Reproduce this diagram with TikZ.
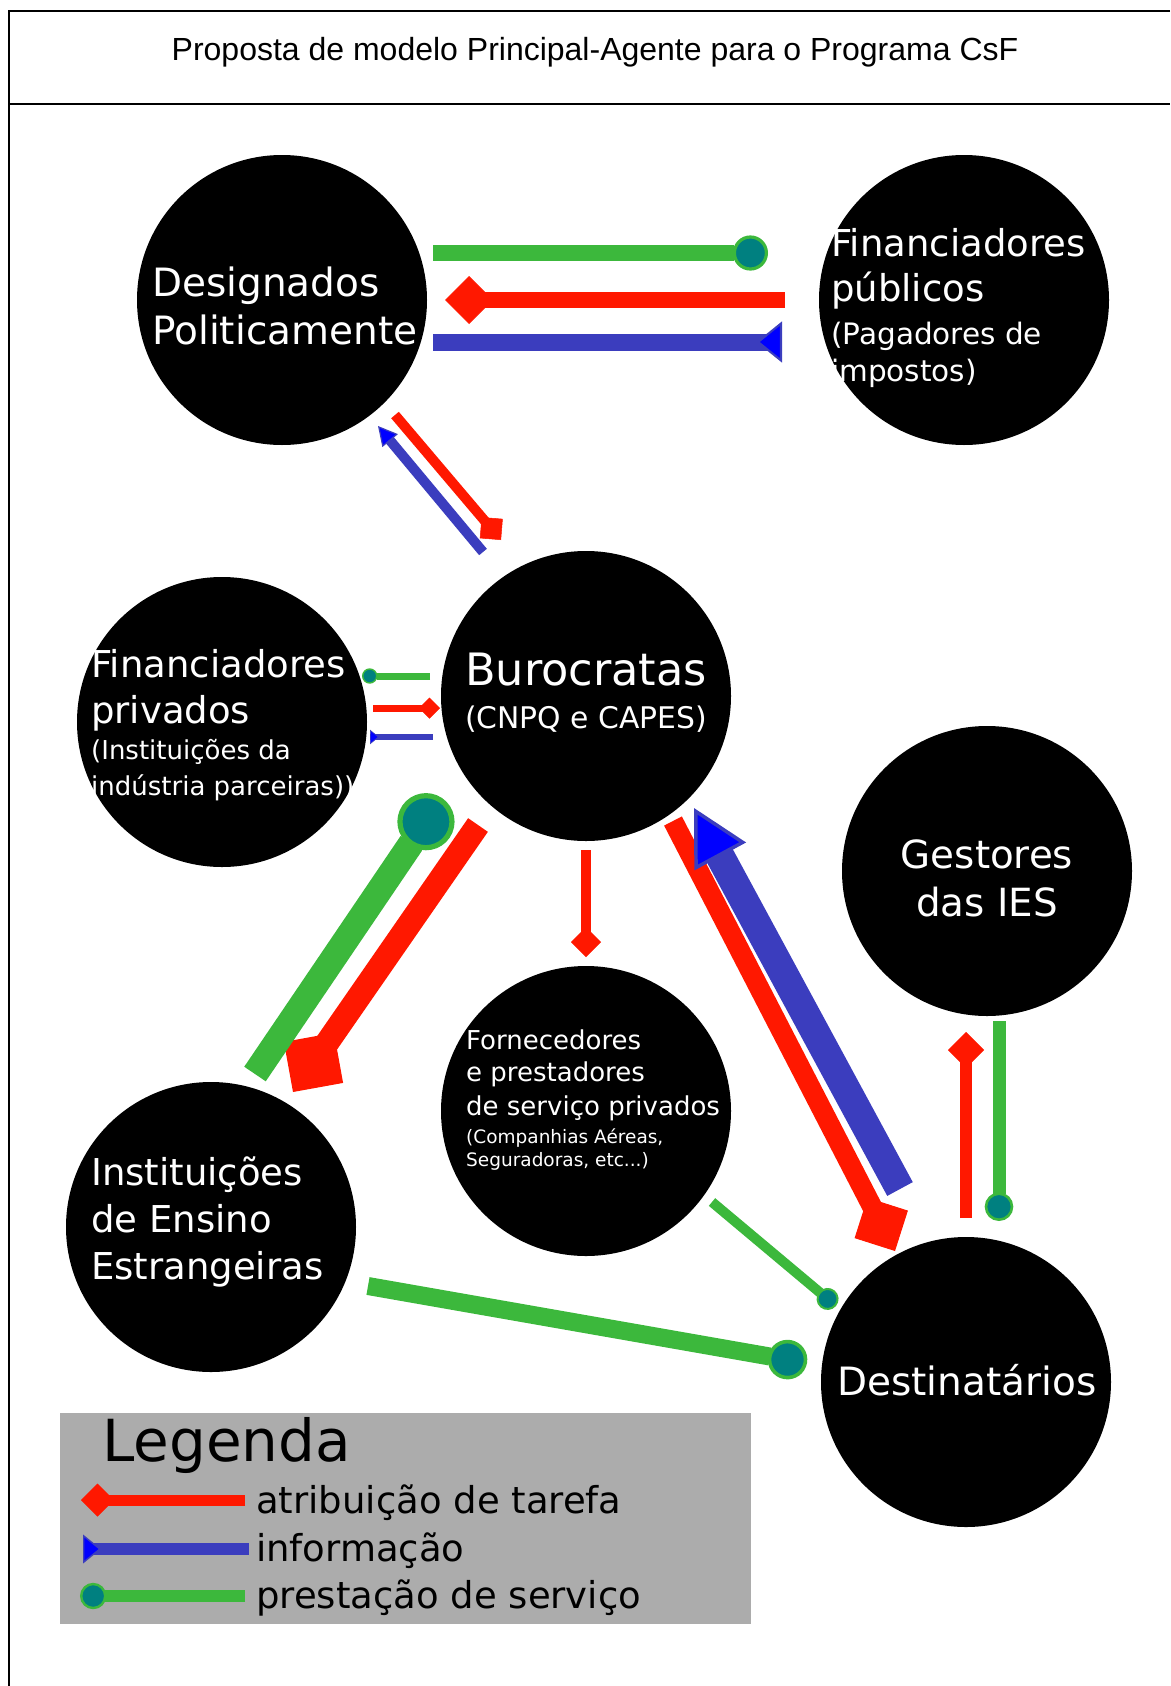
\documentclass[tikz,border=0pt]{standalone}
\usepackage{fontspec}
\usetikzlibrary{calc,arrows.meta}

\newfontfamily\dejavu{DejaVu Sans}
\newfontfamily\liberation{Liberation Sans}

\definecolor{vermelho}{RGB}{255,24,0}
\definecolor{azul}{RGB}{59,61,190}
\definecolor{azulponta}{RGB}{0,0,255}
\definecolor{verde}{RGB}{60,184,60}
\definecolor{petroleo}{RGB}{0,128,128}
\definecolor{cinza}{RGB}{172,172,172}

\tikzset{
    ator/.style={circle, fill=black, minimum size=290pt, inner sep=0pt},
    rotulo/.style={text=white, inner sep=0pt, align=left},
    losango/.tip={Diamond[length=0pt 3, width=0pt 3, line width=0pt 0.05]},
    ponta/.tip={Triangle[length=0pt 1.9, width=0pt 2.0, fill=azulponta, line width=0pt 0.12]},
    pontainv/.tip={Triangle[reversed, length=0pt 1.5, width=0pt 2.4, fill=azulponta, line width=0pt 0.12]},
    bolinha/.tip={Circle[length=0pt 2.2, fill=petroleo, line width=0pt 0.2]},
    tarefa/.style={draw=vermelho, line width=#1, -{losango}},
    informacao/.style={draw=azul, line width=#1, -{ponta}},
    informacaoinv/.style={draw=azul, line width=#1, {pontainv}-, preaction={draw=azul, line width=#1, arrows=-}},
    servico/.style={draw=verde, line width=#1, -{bolinha}}
}

\begin{document}
\begin{tikzpicture}[x=1pt, y=-1pt]
    \useasboundingbox (0,0) rectangle (1170,1686);
    \draw[line width=2pt] (1170,11) -- (9,11) -- (9,1686);
    \draw[line width=2pt] (9,104) -- (1170,104);
    \node[font=\liberation\fontsize{32}{38}\selectfont, anchor=base] at (595,61) (T) {Proposta de modelo Principal-Agente para o Programa CsF};

    \node[ator] at (282,300) (DP) {};
    \node[ator] at (964,300) (FPu) {};
    \node[ator] at (586,696) (BC) {};
    \node[ator] at (222,722) (FPr) {};
    \node[ator] at (987,871) (GI) {};
    \node[ator] at (586,1111) (FS) {};
    \node[ator] at (211,1227) (IE) {};
    \node[ator] at (966,1382) (DT) {};

    \node[rotulo, anchor=north west, font=\dejavu\fontsize{39}{48}\selectfont] at (152,267) (DPt) {Designados\\Politicamente};
    \node[rotulo, anchor=north west, font=\dejavu\fontsize{37}{45}\selectfont] at (831,228) (FPut) {Financiadores\\públicos\\[-2pt]{\fontsize{29.5}{37}\selectfont(Pagadores de}\\[-8pt]{\fontsize{29.5}{37}\selectfont impostos)}};
    \node[rotulo, anchor=north, align=center, font=\dejavu\fontsize{44.6}{43}\selectfont] at (586,653) (BCt) {Burocratas\\{\fontsize{29.8}{36}\selectfont(CNPQ e CAPES)}};
    \node[rotulo, anchor=north west, font=\dejavu\fontsize{37}{46}\selectfont] at (91,649) (FPrt) {Financiadores\\privados\\[-10pt]{\fontsize{26}{32}\selectfont(Instituições da}\\[-10pt]{\fontsize{26}{32}\selectfont indústria parceiras))}};
    \node[rotulo, anchor=north, align=center, font=\dejavu\fontsize{38.8}{48}\selectfont] at (987,839) (GIt) {Gestores\\das IES};
    \node[rotulo, anchor=north west, font=\dejavu\fontsize{26}{32}\selectfont] at (466,1030) (FSt) {Fornecedores\\e prestadores\\[2pt]de serviço privados\\[-4pt]{\fontsize{18.5}{23}\selectfont(Companhias Aéreas,}\\[-9pt]{\fontsize{18.5}{23}\selectfont Seguradoras, etc...)}};
    \node[rotulo, anchor=north west, font=\dejavu\fontsize{37}{47}\selectfont] at (91,1157) (IEt) {Instituições\\de Ensino\\Estrangeiras};
    \node[rotulo, font=\dejavu\fontsize{39}{47}\selectfont] at (967,1380) (DTt) {Destinatários};

    \draw[servico=16pt] ($(DP)+(151,-47)$) -- ($(FPu)+(-196,-47)$);
    \draw[tarefa=16pt] ($(FPu)+(-179,0)$) -- ($(DP)+(163,0)$);
    \draw[informacaoinv=17pt] ($(FPu)+(-182,42)$) -- ($(DP)+(151,42)$);
    \draw[tarefa=10pt] ($(DP)+(113,115)$) -- ($(BC)+(-85,-156)$);
    \draw[informacao=10pt] ($(BC)+(-103,-144)$) -- ($(DP)+(96,126)$);
    \draw[servico=7pt] ($(BC)+(-156,-20)$) -- ($(FPr)+(140,-46)$);
    \draw[tarefa=7pt] ($(FPr)+(151,-14)$) -- ($(BC)+(-146,12)$);
    \draw[informacaoinv=6pt] ($(FPr)+(148,15)$) -- ($(BC)+(-153,41)$);
    \draw[tarefa=24pt] ($(BC)+(-108,129)$) -- ($(IE)+(82,-135)$);
    \draw[servico=26pt] ($(IE)+(44,-153)$) -- ($(BC)+(-144,102)$);
    \draw[tarefa=10pt] ($(BC)+(0,154)$) -- ($(FS)+(0,-154)$);
    \draw[tarefa=20pt] ($(BC)+(87,125)$) -- ($(DT)+(-71,-131)$);
    \draw[informacao=29pt] ($(DT)+(-66,-193)$) -- ($(BC)+(108,112)$);
    \draw[tarefa=12pt] ($(DT)+(0,-164)$) -- ($(GI)+(-21,161)$);
    \draw[servico=13pt] ($(GI)+(12,150)$) -- ($(DT)+(33,-161)$);
    \draw[servico=10pt] ($(FS)+(126,91)$) -- ($(DT)+(-130,-76)$);
    \draw[servico=18pt] ($(IE)+(157,59)$) -- ($(DT)+(-159,-19)$);

    \node[fill=cinza, minimum width=691pt, minimum height=211pt, inner sep=0pt, anchor=north west] at (60,1413) (L) {};
    \node[anchor=base west, inner sep=0pt, font=\dejavu\fontsize{58}{64}\selectfont] at (102,1461) (Lg) {Legenda};
    \node[anchor=base west, inner sep=0pt, font=\dejavu\fontsize{37}{44}\selectfont] at (256,1513) (Lt) {atribuição de tarefa};
    \node[anchor=base west, inner sep=0pt, font=\dejavu\fontsize{37}{44}\selectfont] at (256,1561) (Li) {informação};
    \node[anchor=base west, inner sep=0pt, font=\dejavu\fontsize{37}{44}\selectfont] at (256,1608) (Ls) {prestação de serviço};
    \draw[tarefa=11pt] ($(Lt.base west)+(-11,-13)$) -- ($(Lt.base west)+(-175,-13)$);
    \draw[informacaoinv=12pt] ($(Li.base west)+(-173,-12)$) -- ($(Li.base west)+(-7,-12)$);
    \draw[servico=12pt] ($(Ls.base west)+(-11,-12)$) -- ($(Ls.base west)+(-176,-12)$);
\end{tikzpicture}
\end{document}
